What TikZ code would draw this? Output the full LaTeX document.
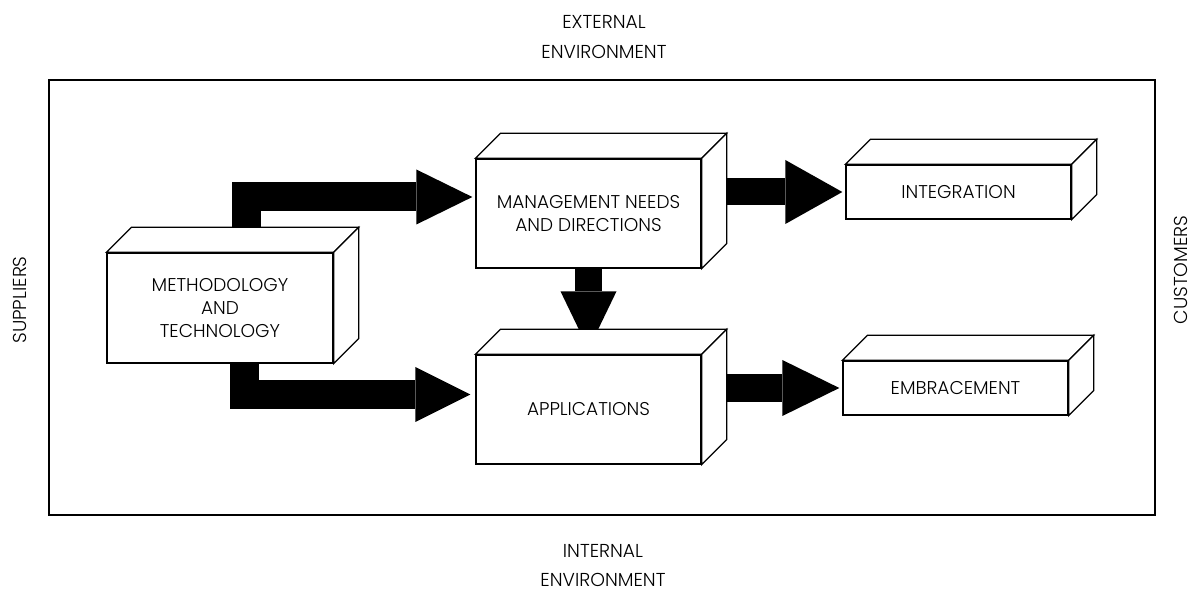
\documentclass[tikz,border=0pt]{standalone}
\usepackage{fontspec}
\setmainfont{Poppins Light}
\usetikzlibrary{arrows.meta,backgrounds,calc}
\newcommand\cubefaces[1]{%
  \draw[face] (#1.north west) -- ++(25,-25) -- ($(#1.north east)+(25,-25)$) -- (#1.north east) -- cycle;
  \draw[face] (#1.north east) -- ++(25,-25) -- ($(#1.south east)+(25,-25)$) -- (#1.south east) -- cycle;
}
\begin{document}
\begin{tikzpicture}[x=1pt,y=-1pt,
  face/.style={draw, fill=white, line width=1.3pt, line join=miter},
  boxfront/.style={face, inner sep=0pt, minimum width=225pt, align=center,
    font=\fontsize{18.5}{23}\selectfont},
  outerlbl/.style={align=center, font=\fontsize{18.7}{29.5}\selectfont},
  blockarrow/.style={draw=black, line join=miter}
]
\useasboundingbox (0,0) rectangle (1197,593);

% outer environment frame
\draw[line width=2pt] (49,80) rectangle (1155,515);

% outer labels
\node[outerlbl] (ext) at (604,37) {EXTERNAL\\ENVIRONMENT};
\node[outerlbl] (intl) at (603,565.5) {INTERNAL\\ENVIRONMENT};
\node[outerlbl, rotate=90] (sup) at (20,300) {SUPPLIERS};
\node[outerlbl, rotate=90] (cus) at (1181,270) {CUSTOMERS};

% boxes (front faces)
\node[boxfront, minimum width=226pt, minimum height=110pt] (meth) at (220,308) {METHODOLOGY\\AND\\TECHNOLOGY};
\node[boxfront, minimum height=109pt] (mgmt) at (588.5,213.5) {MANAGEMENT NEEDS\\AND DIRECTIONS};
\node[boxfront, minimum height=109pt] (app) at (588.5,409.5) {APPLICATIONS};
\node[boxfront, minimum height=54pt] (int) at (958.5,192) {INTEGRATION};
\node[boxfront, minimum height=54pt] (emb) at (955.5,388) {EMBRACEMENT};

\cubefaces{meth}
\cubefaces{mgmt}
\cubefaces{app}
\cubefaces{int}
\cubefaces{emb}

% block arrows behind the boxes
\begin{scope}[on background layer]
  \draw[blockarrow, line width=29pt, -{Triangle[length=56pt,width=55pt,line width=0pt]}]
    ([xshift=26.5pt]meth.center) |- ([yshift=16.5pt,xshift=-3pt]mgmt.west);
  \draw[blockarrow, line width=29pt, -{Triangle[length=55pt,width=55pt,line width=0pt]}]
    ([xshift=24pt]meth.center) |- ([yshift=15pt,xshift=-5pt]app.west);
  \draw[blockarrow, line width=27pt, -{Triangle[length=58pt,width=56pt,line width=0pt]}]
    (mgmt.center) -- ([yshift=5pt]app.north);
  \draw[blockarrow, line width=27pt, -{Triangle[length=57pt,width=64pt,line width=0pt]}]
    (mgmt.center |- int.west) -- ([xshift=-3pt]int.west);
  \draw[blockarrow, line width=28pt, -{Triangle[length=57pt,width=56pt,line width=0pt]}]
    (app.center |- emb.west) -- ([xshift=-3pt]emb.west);
\end{scope}
\end{tikzpicture}
\end{document}
